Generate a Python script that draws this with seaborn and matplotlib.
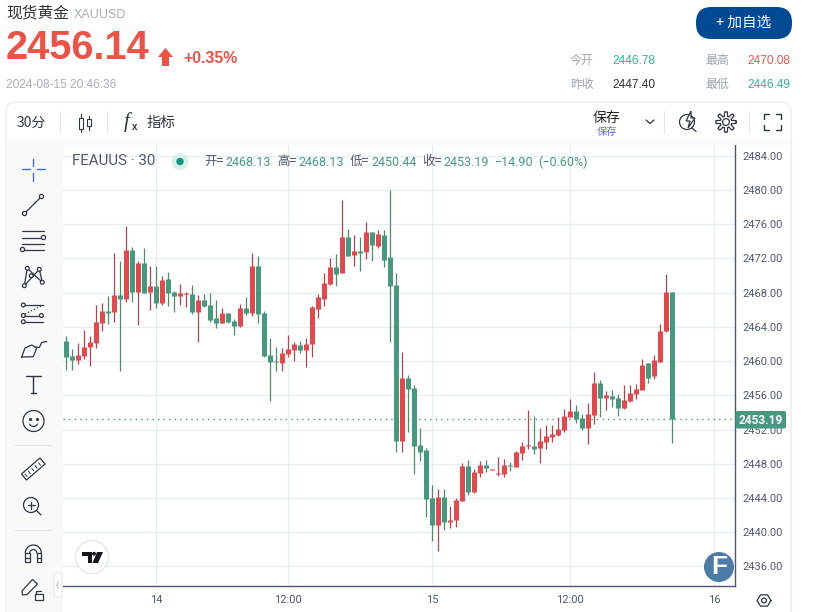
import numpy as np
import pandas as pd
import seaborn as sns
import matplotlib.pyplot as plt
from matplotlib.patches import Circle, FancyBboxPatch, Polygon, Rectangle

# candle data
open_px = [2462.33, 2460.57, 2460.10, 2460.57, 2461.62, 2462.09, 2464.44, 2465.84, 2465.73, 2467.72,
           2467.25, 2472.99, 2468.07, 2471.47, 2468.07, 2468.77, 2466.78, 2469.59, 2468.07, 2467.60,
           2467.84, 2467.84, 2465.73, 2467.13, 2466.55, 2465.02, 2464.44, 2465.61, 2464.67, 2464.09,
           2466.20, 2465.61, 2471.12, 2465.61, 2460.69, 2459.98, 2459.75, 2460.80, 2461.27, 2461.86,
           2461.27, 2461.98, 2466.08, 2467.25, 2469.01, 2471.00, 2470.30, 2474.52, 2472.41, 2472.87,
           2472.76, 2475.10, 2473.46, 2474.75, 2472.17, 2468.86, 2450.70, 2458.08, 2456.91, 2450.23,
           2449.64, 2444.02, 2440.85, 2444.13, 2441.20, 2441.44, 2443.66, 2447.77, 2444.72, 2446.95,
           2447.88, 2447.30, 2446.83, 2446.83, 2447.88, 2447.65, 2449.29, 2450.11, 2450.11, 2449.87,
           2450.58, 2451.16, 2451.40, 2451.98, 2453.51, 2454.21, 2453.39, 2452.22, 2453.74, 2457.49,
           2455.73, 2455.97, 2455.73, 2454.56, 2455.38, 2456.20, 2456.67, 2459.72, 2458.20, 2459.84,
           2463.47, 2468.13]
close_px = [2460.45, 2460.10, 2460.69, 2461.62, 2462.21, 2464.55, 2465.84, 2465.61, 2467.72, 2467.25,
            2472.99, 2468.07, 2471.47, 2467.95, 2468.77, 2466.78, 2469.48, 2467.95, 2467.60, 2467.95,
            2467.95, 2465.73, 2467.13, 2466.43, 2464.79, 2464.44, 2465.61, 2464.55, 2464.09, 2466.20,
            2465.61, 2471.12, 2465.49, 2460.57, 2459.87, 2459.87, 2460.92, 2461.39, 2461.98, 2461.27,
            2461.98, 2466.31, 2467.48, 2469.12, 2471.00, 2470.18, 2474.52, 2472.29, 2472.87, 2472.64,
            2475.10, 2473.58, 2474.87, 2471.82, 2468.77, 2450.70, 2458.08, 2456.79, 2450.11, 2449.41,
            2443.90, 2440.85, 2444.13, 2441.20, 2441.44, 2443.78, 2447.77, 2444.72, 2447.06, 2447.88,
            2447.53, 2447.41, 2446.95, 2447.88, 2447.77, 2449.41, 2450.11, 2450.23, 2449.76, 2450.70,
            2451.28, 2451.52, 2452.10, 2453.62, 2454.21, 2453.27, 2452.22, 2453.86, 2457.49, 2455.73,
            2456.09, 2455.62, 2454.56, 2455.50, 2456.32, 2456.79, 2459.60, 2458.08, 2460.07, 2463.47,
            2468.13, 2453.19]
high_px = [2462.91, 2461.39, 2462.09, 2463.62, 2462.91, 2466.55, 2466.78, 2467.60, 2472.64, 2471.70,
           2475.80, 2473.34, 2471.70, 2473.23, 2471.12, 2471.12, 2469.95, 2470.41, 2468.19, 2469.01,
           2468.07, 2468.89, 2467.72, 2467.84, 2467.95, 2467.13, 2466.20, 2465.61, 2464.91, 2466.66,
           2467.48, 2472.64, 2472.29, 2465.84, 2462.68, 2461.62, 2461.51, 2463.03, 2462.21, 2462.33,
           2462.68, 2466.43, 2467.84, 2470.30, 2472.05, 2472.52, 2478.85, 2475.45, 2474.75, 2474.52,
           2476.27, 2475.10, 2475.34, 2475.34, 2480.03, 2470.30, 2461.01, 2458.43, 2457.26, 2452.22,
           2449.87, 2445.54, 2445.07, 2445.07, 2443.08, 2444.02, 2448.12, 2448.47, 2447.41, 2448.35,
           2448.47, 2447.41, 2448.82, 2448.59, 2448.23, 2449.52, 2450.58, 2454.33, 2453.62, 2452.22,
           2452.57, 2452.57, 2453.51, 2454.45, 2455.62, 2454.91, 2453.86, 2455.15, 2458.78, 2457.84,
           2456.55, 2456.67, 2456.20, 2457.26, 2457.26, 2457.37, 2460.30, 2459.72, 2460.66, 2464.29,
           2470.15, 2468.13]
low_px = [2458.93, 2458.93, 2459.63, 2460.22, 2459.40, 2461.51, 2463.50, 2464.32, 2464.55, 2458.81,
          2466.90, 2466.90, 2464.20, 2467.95, 2465.96, 2466.20, 2466.55, 2466.43, 2465.73, 2466.55,
          2466.31, 2465.49, 2462.21, 2466.31, 2464.55, 2463.85, 2464.44, 2464.44, 2463.03, 2463.97,
          2465.37, 2465.26, 2464.44, 2460.45, 2455.30, 2458.81, 2458.81, 2460.45, 2459.98, 2460.92,
          2459.28, 2460.45, 2465.02, 2466.43, 2468.89, 2468.77, 2470.30, 2472.29, 2471.12, 2470.53,
          2471.94, 2471.70, 2473.23, 2471.00, 2462.21, 2449.41, 2449.41, 2451.75, 2446.83, 2448.35,
          2441.79, 2438.98, 2437.80, 2440.27, 2440.50, 2440.62, 2443.66, 2444.37, 2444.60, 2446.48,
          2447.06, 2447.30, 2446.59, 2446.48, 2447.18, 2447.65, 2448.47, 2449.76, 2449.17, 2448.12,
          2449.76, 2450.58, 2451.28, 2451.75, 2453.51, 2452.80, 2451.98, 2450.34, 2452.69, 2453.51,
          2454.33, 2454.68, 2453.62, 2454.45, 2455.27, 2455.62, 2456.67, 2457.49, 2457.96, 2459.84,
          2463.35, 2450.44]

y_ticks = [2436, 2440, 2444, 2448, 2452, 2456, 2460, 2464, 2468, 2472, 2476, 2480, 2484]
x_tick_bars = [16, 38, 62, 85, 109]
x_tick_labels = ['14', '12:00', '15', '12:00', '16']
last_price = 2453.19

GREEN = '#45997f'
RED = '#e5474d'
GRID = '#e6eef4'
AXIS = '#4f5673'

sns.set_theme(style='white')
plt.rcParams['font.family'] = ['Roboto', 'Noto Sans CJK SC', 'DejaVu Sans']
FONT_AR = ['Liberation Sans', 'Noto Sans CJK SC', 'DejaVu Sans']
FONT_CN = ['Noto Sans CJK SC', 'DejaVu Sans']

W, H = 819, 612
fig = plt.figure(figsize=(W / 100, H / 100), dpi=100, facecolor='white')

# chart pane
L, R, T, B = 63, 735.5, 145, 586
ax = fig.add_axes([L / W, 1 - B / H, (R - L) / W, (B - T) / H], zorder=1)

df = pd.DataFrame({'bar': np.arange(1, len(open_px) + 1), 'open': open_px, 'close': close_px,
                   'high': high_px, 'low': low_px})
df['dir'] = np.where(df['close'] >= df['open'], 'up', 'down')

wicks = df.melt(id_vars=['bar', 'dir'], value_vars=['low', 'high'], value_name='price')
bodies = df.melt(id_vars=['bar', 'dir'], value_vars=['open', 'close'], value_name='price')

sns.lineplot(data=wicks, x='bar', y='price', hue='dir', units='bar', estimator=None, sort=False,
             palette={'up': '#b3434f', 'down': '#4c8f66'}, lw=0.9, legend=False, ax=ax,
             solid_capstyle='butt')
sns.lineplot(data=bodies, x='bar', y='price', hue='dir', units='bar', estimator=None, sort=False,
             palette={'up': RED, 'down': GREEN}, lw=3.6, legend=False, ax=ax,
             solid_capstyle='butt')

ax.axhline(last_price, color=GREEN, lw=1, ls=(0, (1, 3)), zorder=1)

ax.set_xlim(0.45, 112.53)
ax.set_ylim(2433.70, 2485.27)
ax.set_xlabel('')
ax.set_ylabel('')
ax.set_xticks(x_tick_bars, x_tick_labels)
ax.set_yticks(y_ticks, [f'{v:.2f}' for v in y_ticks])
ax.yaxis.tick_right()
ax.tick_params(axis='both', length=0, colors='#4f5673')
ax.tick_params(axis='y', labelsize=8, pad=5)
ax.tick_params(axis='x', labelsize=8, pad=6.5)
ax.grid(True, color=GRID, lw=1)
ax.set_axisbelow(True)
for side in ['top', 'left']:
    ax.spines[side].set_visible(False)
for side in ['right', 'bottom']:
    ax.spines[side].set_color(AXIS)
    ax.spines[side].set_linewidth(1)

# everything around the chart, in pixel coordinates
ov = fig.add_axes([0, 0, 1, 1], zorder=5)
ov.set_xlim(0, W)
ov.set_ylim(H, 0)
ov.axis('off')
ov.patch.set_alpha(0)


def txt(x, y, s, size=9, color='#333333', ha='left', family=None, weight='normal', style='normal'):
    ov.text(x, y, s, fontsize=size, color=color, ha=ha, va='center', weight=weight, style=style,
            family=family if family else FONT_AR)


def ln(xs, ys, color='#2f3542', lw=0.9, **kw):
    ov.plot(xs, ys, color=color, lw=lw, solid_capstyle='round', **kw)


def dot(x, y, r=2.1, color='#2f3542', fc='white', lw=0.9):
    ov.add_patch(Circle((x, y), r, fc=fc, ec=color, lw=lw, zorder=4))


def rbox(x0, y0, x1, y1, r, **kw):
    ov.add_patch(FancyBboxPatch((x0 + r, y0 + r), x1 - x0 - 2 * r, y1 - y0 - 2 * r,
                                boxstyle=f'round,pad={r},rounding_size={r}', **kw))


# header
txt(6, 13, '现货黄金', 11.3, '#333333', family=FONT_CN)
txt(74, 14.5, 'XAUUSD', 9, '#a9adb5')
txt(6, 48, '2456.14', 28.5, '#ef5145', weight='bold')
ov.add_patch(Polygon([(165.5, 48), (173, 57), (169, 57), (169, 66), (162, 66), (162, 57), (158, 57)],
                     fc='#ef5145', ec='none'))
txt(183, 58.5, '+0.35%', 11.4, '#ef5145', weight='bold')
txt(6, 85, '2024-08-15 20:46:36', 8.6, '#a9adb5')

rbox(696, 7, 792, 39, 15.5, fc='#004a94', ec='none')
txt(744, 23, '+ 加自选', 10.5, 'white', ha='center', family=FONT_CN)

txt(570, 60.5, '今开', 8.6, '#a0a4ab', family=FONT_CN)
txt(612, 60.5, '2446.78', 8.6, '#2bb59a')
txt(705, 60.5, '最高', 8.6, '#a0a4ab', family=FONT_CN)
txt(747, 60.5, '2470.08', 8.6, '#f0524c')
txt(570, 84.5, '昨收', 8.6, '#a0a4ab', family=FONT_CN)
txt(612, 84.5, '2447.40', 8.6, '#333333')
txt(705, 84.5, '最低', 8.6, '#a0a4ab', family=FONT_CN)
txt(747, 84.5, '2446.49', 8.6, '#2bb59a')

# widget frame and toolbars
rbox(6, 102, 791, 625, 10, fc='none', ec='#eceff2', lw=1)
ov.add_patch(Rectangle((7, 140), 783, 5, fc='#f8f9fa', ec='none'))
ov.add_patch(Rectangle((7, 140), 55.5, 472, fc='#f9f9fa', ec='none'))
ln([791, 791], [140, 612], color='#eceff2')

for xs in [60, 107, 664, 749]:
    ln([xs, xs], [111, 133], color='#e3e6ea', lw=0.8)

txt(17, 122.5, '30分', 10, '#2f3542', family=FONT_CN)
# candle icon
for cx, y0, y1, w0, w1 in [(80.5, 118, 129, 114, 132), (88.5, 119, 126, 116, 130)]:
    ln([cx, cx], [w0, w1], lw=0.8)
    ov.add_patch(Rectangle((cx - 2, y0), 4, y1 - y0, fc='white', ec='#2f3542', lw=0.8, zorder=4))
txt(124, 122, 'f', 15, '#2f3542', family='Liberation Serif', style='italic')
txt(131.5, 127.5, 'x', 7, '#2f3542', weight='bold')
txt(147, 123, '指标', 10.4, '#2f3542', family=FONT_CN)
txt(593, 118, '保存', 10, '#222222', family=FONT_CN)
txt(597, 132, '保存', 7.4, '#5f6af0', family=FONT_CN)
ln([646, 650, 654], [120, 123.5, 120], lw=0.9)

# lightning magnifier
ov.add_patch(Circle((687, 122), 7.5, fc='none', ec='#2f3542', lw=0.9))
ov.add_patch(Polygon([(691, 111), (686, 121), (690, 121), (688, 128), (695, 118), (691, 118)],
                     fc='white', ec='#2f3542', lw=0.9, zorder=4))
ln([692, 696], [128, 131.5])
# gear
gear_th = np.linspace(0, 2 * np.pi, 97)
gear_r = 8 + 2.2 * np.clip(2.2 * np.cos(8 * gear_th), -1, 1)
ln(726 + gear_r * np.cos(gear_th), 122 + gear_r * np.sin(gear_th), lw=0.9)
dot(726, 122, 3.4, fc='white')
# fullscreen corners
for cx, cy, sx, sy in [(764, 114, 1, 1), (781, 114, -1, 1), (764, 130, 1, -1), (781, 130, -1, -1)]:
    ln([cx + 5 * sx, cx, cx], [cy, cy, cy + 5 * sy], lw=1)

# left drawing tools
ln([33.3, 33.3], [158.5, 165.5], color='#3b6fe0', lw=1)
ln([33.3, 33.3], [173, 180.5], color='#3b6fe0', lw=1)
ln([22, 29.5], [169.3, 169.3], color='#3b6fe0', lw=1)
ln([37, 45], [169.3, 169.3], color='#3b6fe0', lw=1)

ln([24.5, 41.5], [213.5, 196.5])
dot(24.5, 213.5)
dot(41.5, 196.5)

for yy in [231, 237.5, 243.5, 249.5]:
    ln([22, 44], [yy, yy])
dot(43.5, 237.5)
dot(22.5, 249.5)

pts = [(24.3, 285.7), (27.3, 268.3), (42.3, 282.3), (39.3, 269.3), (31.3, 275.7)]
ln([24.3, 27.3, 42.3, 39.3, 24.3], [285.7, 268.3, 282.3, 269.3, 285.7])
for p in pts:
    dot(p[0], p[1], 1.9)

ln([23, 43], [305, 305])
ln([23, 43], [315.5, 315.5])
ln([23, 43], [321.7, 321.7])
ln([25, 41], [314, 306], ls=':')
dot(23.3, 305, 1.9)
dot(23.3, 315.5, 1.9)
dot(23.3, 321.7, 1.9)
dot(41.3, 315.5, 1.9)

# brush
ln([21.7, 25, 31.7, 36.7, 33.3, 21.7], [357, 348, 345, 348, 356.7, 357])
ln([36, 39.3, 41.7, 46.7], [347, 347.5, 342.5, 341.5], lw=0.9)

# T icon
ln([26, 40.7], [376, 376], lw=1)
ln([33.3, 33.3], [376, 393.3], lw=1)
ln([30.7, 36], [393.3, 393.3], lw=1)

ov.add_patch(Circle((33.5, 421), 10.5, fc='none', ec='#2f3542', lw=0.9))
ov.plot([30, 37], [418.5, 418.5], ls='none', marker='.', ms=2.5, color='#2f3542')
ov.plot(33.5 + 4.5 * np.cos(np.linspace(0.5, 2.64, 12)),
        422 + 4.5 * np.sin(np.linspace(0.5, 2.64, 12)), color='#2f3542', lw=0.9)

ln([15, 51], [445, 445], color='#dfe2e6', lw=0.9)
ov.add_patch(Polygon([(21.5, 474), (26.5, 480), (45, 464), (40, 458)], fc='white', ec='#2f3542', lw=0.9))
for k in range(5):
    ln([25 + 3.4 * k, 27 + 3.4 * k], [474 - 2.8 * k, 476.5 - 2.8 * k], lw=0.7)

ov.add_patch(Circle((31, 505), 7.5, fc='none', ec='#2f3542', lw=0.9))
ln([27.5, 34.5], [505, 505])
ln([31, 31], [501.5, 508.5])
ln([36.5, 41], [510.5, 515])

ln([15, 51], [530, 530], color='#dfe2e6', lw=0.9)

# magnet
th = np.linspace(np.pi, 2 * np.pi, 20)
ln(33.3 + 8 * np.cos(th), 553 + 8 * np.sin(th))
ln(33.3 + 3.5 * np.cos(th), 553 + 3.5 * np.sin(th))
ln([25.3, 25.3, 29.8, 29.8, 25.3], [553, 562, 562, 553, 553])
ln([41.3, 41.3, 36.8, 36.8, 41.3], [553, 562, 562, 553, 553])
ln([25.3, 29.8], [558, 558])
ln([36.8, 41.3], [558, 558])

# pencil + lock
ov.add_patch(Polygon([(22, 591), (22.5, 595), (27, 594.5), (37.5, 584), (32.5, 579.5)],
                     fc='white', ec='#2f3542', lw=0.9))
ov.add_patch(Rectangle((34.5, 594), 8, 6, fc='white', ec='#2f3542', lw=0.9, zorder=4))
ln([36, 36, 41], [594, 590.5, 590.5])

rbox(54, 573, 62, 597, 3, fc='white', ec='#e3e6ea', lw=0.8)
ln([58.5, 56.5, 58.5], [582, 585, 588], color='#b9bdc4', lw=0.8)

# chart legend
txt(72, 161, 'FEAUUS · 30', 10.9, '#50566e', family='Roboto')
ov.add_patch(Circle((180, 161.5), 8.5, fc='#d9efe9', ec='none'))
ov.add_patch(Circle((180, 161.5), 3.7, fc='#089981', ec='none'))
val_green = '#459a82'
for lx, lab, vx, val in [(204.5, '开=', 225.7, '2468.13'), (277, '高=', 298, '2468.13'),
                         (350, '低=', 371, '2450.44'), (422.7, '收=', 443, '2453.19')]:
    txt(lx, 161.5, lab, 9, '#50566e', family=FONT_CN)
    txt(vx, 162, val, 9, val_green, family='Roboto')
txt(495, 162, '−14.90', 9, val_green, family='Roboto')
txt(538, 162, '(−0.60%)', 9, val_green, family='Roboto')

# last price tag
rbox(735.5, 411, 786, 428.5, 2, fc=GREEN, ec='none')
txt(761, 420, f'{last_price:.2f}', 8.6, 'white', ha='center', family='Roboto', weight='bold')

# TV badge, F badge, hexagon
ov.add_patch(Circle((92, 557), 16.5, fc='white', ec='#e3e6ea', lw=0.9))
ov.add_patch(Polygon([(82, 552), (91.5, 552), (91.5, 563), (87.5, 563), (87.5, 556), (82, 556)],
                     fc='#14161c', ec='none'))
ov.add_patch(Circle((94, 553.7), 1.9, fc='#14161c', ec='none'))
ov.add_patch(Polygon([(97, 552), (103, 552), (98, 563), (92.5, 563)], fc='#14161c', ec='none'))
ov.add_patch(Circle((719, 567), 15, fc='#4a7ca5', ec='none'))
txt(719, 567.5, 'F', 19, 'white', ha='center', family='Liberation Sans', weight='bold')
hex_th = np.linspace(0, 2 * np.pi, 7)
ln(764 + 7 * np.cos(hex_th), 600.5 + 6.5 * np.sin(hex_th), lw=0.9)
dot(764, 600.5, 2.4, lw=0.9)

fig.savefig('out.png', dpi=100, facecolor='white')
